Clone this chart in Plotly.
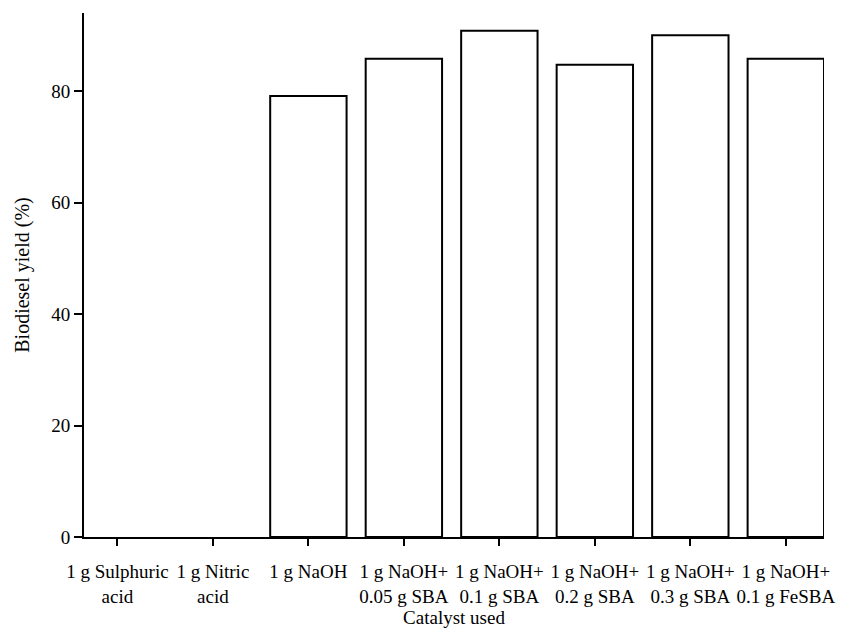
import plotly.graph_objects as go

categories = ["1 g Sulphuric<br>acid", "1 g Nitric<br>acid", "1 g NaOH",
              "1 g NaOH+<br>0.05 g SBA", "1 g NaOH+<br>0.1 g SBA", "1 g NaOH+<br>0.2 g SBA",
              "1 g NaOH+<br>0.3 g SBA", "1 g NaOH+<br>0.1 g FeSBA"]
yields = [0, 0, 79.1, 85.8, 90.8, 84.7, 90.0, 85.8]
y_ticks = [0, 20, 40, 60, 80]

family = "Liberation Serif, Times New Roman, serif"
font = dict(family=family, size=19, color="black")

fig = go.Figure(go.Bar(
    x=list(range(len(categories))), y=yields, width=0.8,
    marker=dict(color="white",
                line=dict(color="black", width=[0 if v == 0 else 2 for v in yields])),
))
fig.update_layout(
    width=842, height=628, margin=dict(l=84, r=18, t=13, b=91),
    paper_bgcolor="white", plot_bgcolor="white", font=font, showlegend=False,
    bargap=0.2,
)
fig.update_xaxes(
    tickmode="array", tickvals=list(range(len(categories))), ticktext=categories,
    range=[-0.35, 7.4], showline=True, linecolor="black", linewidth=2,
    ticks="outside", ticklen=7, tickwidth=2, tickcolor="black", showgrid=False,
    zeroline=False, tickangle=0, ticklabelstandoff=9, automargin=False,
    title=dict(text="Catalyst used", standoff=6, font=dict(family=family, size=19)),
)
fig.update_yaxes(
    range=[0, 94], tickvals=y_ticks, showline=True, linecolor="black", linewidth=2,
    ticks="outside", ticklen=8, tickwidth=2, tickcolor="black", showgrid=False,
    zeroline=False, automargin=False,
    title=dict(text="Biodiesel yield (%)", standoff=16, font=dict(family=family, size=20)),
)
fig.write_html("out.html")
